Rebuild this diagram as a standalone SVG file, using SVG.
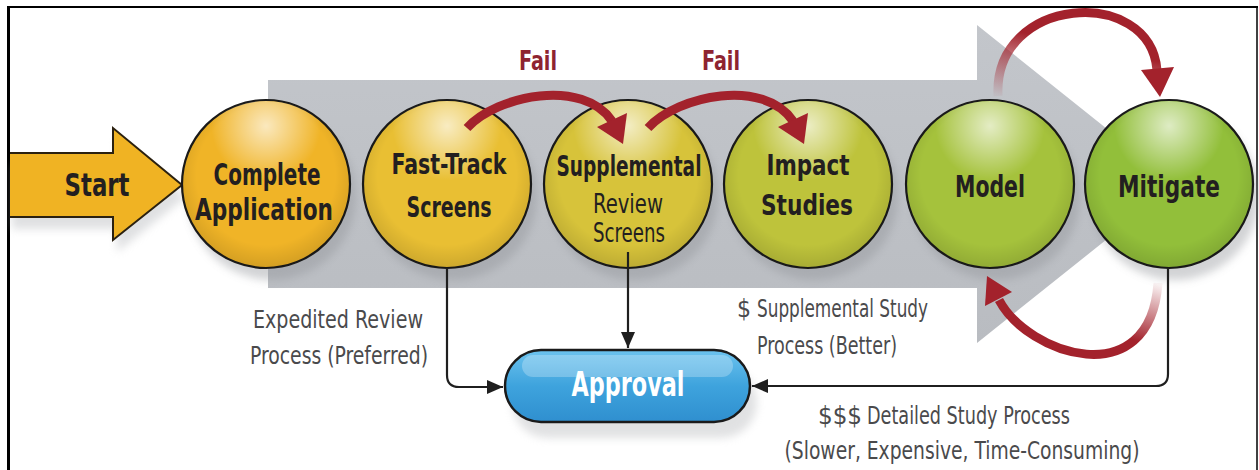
<svg xmlns="http://www.w3.org/2000/svg" width="1259" height="470" viewBox="0 0 1259 470">
<style>
.lbl{font-family:"Liberation Sans Narrow","DejaVu Sans Condensed","Liberation Sans",sans-serif;font-weight:bold;fill:#231f20;text-anchor:middle}
.sub{font-family:"Liberation Sans Narrow","DejaVu Sans Condensed","Liberation Sans",sans-serif;fill:#231f20;text-anchor:middle;font-size:26px}
.note{font-family:"Liberation Sans Narrow","DejaVu Sans Condensed","Liberation Sans",sans-serif;fill:#4a4a4c;text-anchor:middle;font-size:24px}
.notel{font-family:"Liberation Sans Narrow","DejaVu Sans Condensed","Liberation Sans",sans-serif;fill:#4a4a4c;font-size:24px}
.fail{font-family:"Liberation Sans Narrow","DejaVu Sans Condensed","Liberation Sans",sans-serif;font-weight:bold;fill:#8e2430;text-anchor:middle;font-size:27px}
.circ{stroke:#1a1a1a;stroke-width:2.2}
.conn{fill:none;stroke:#1f1f1f;stroke-width:2.2}
.red{fill:none;stroke:#a3222c;stroke-width:9}
.redhead{fill:#a3222c}
.shadow{fill:#8f9297;opacity:0.4;filter:url(#blur)}
</style>
<defs>
<filter id="blur" x="-20%" y="-20%" width="140%" height="140%"><feGaussianBlur stdDeviation="4"/></filter>
<radialGradient id="hl" cx="0.5" cy="0.15" r="0.55">
<stop offset="0" stop-color="#fff" stop-opacity="0.7"/>
<stop offset="0.6" stop-color="#fff" stop-opacity="0"/>
</radialGradient>
<radialGradient id="edge" cx="0.5" cy="0.45" r="0.55">
<stop offset="0.75" stop-color="#000" stop-opacity="0"/>
<stop offset="1" stop-color="#000" stop-opacity="0.12"/>
</radialGradient>
<linearGradient id="grayArrow" x1="0" y1="0" x2="0" y2="1">
<stop offset="0" stop-color="#c3c6cb"/>
<stop offset="1" stop-color="#b9bcc1"/>
</linearGradient>
<linearGradient id="pill" x1="0" y1="0" x2="0" y2="1">
<stop offset="0" stop-color="#6cc3ef"/>
<stop offset="0.5" stop-color="#3ea3dd"/>
<stop offset="1" stop-color="#2f8fcf"/>
</linearGradient>
<linearGradient id="fadeTop" gradientUnits="userSpaceOnUse" x1="998" y1="95" x2="1012" y2="30">
<stop offset="0" stop-color="#a3222c" stop-opacity="0.05"/>
<stop offset="1" stop-color="#a3222c" stop-opacity="1"/>
</linearGradient>
<linearGradient id="fadeBot" gradientUnits="userSpaceOnUse" x1="1158" y1="284" x2="1140" y2="342">
<stop offset="0" stop-color="#a3222c" stop-opacity="0.05"/>
<stop offset="1" stop-color="#a3222c" stop-opacity="1"/>
</linearGradient>
<marker id="ah" markerUnits="userSpaceOnUse" markerWidth="18" markerHeight="16" refX="16" refY="7" orient="auto">
<path d="M0,0 L16,7 L0,14 Z" fill="#1f1f1f"/>
</marker>
</defs>

<rect x="0" y="0" width="1259" height="470" fill="#fff"/>

<g id="frame" stroke="#000" fill="none">
<line x1="8.5" y1="6" x2="8.5" y2="470" stroke-width="3"/>
<line x1="7" y1="7" x2="1258" y2="7" stroke-width="2"/>
<line x1="1257" y1="6" x2="1257" y2="470" stroke-width="1.5"/>
</g>

<g id="process-arrow">
<path d="M268,80 H977 V25 L1176,184 L977,343 V288 H268 Z" fill="url(#grayArrow)"/>
</g>

<g id="shadows">
<path class="shadow" d="M12,165 H117 V140 L186,197 L117,252 V229 H12 Z" style="fill:#b0b3b7"/>
<circle class="shadow" cx="272" cy="196" r="84"/>
<circle class="shadow" cx="453" cy="196" r="84"/>
<circle class="shadow" cx="634" cy="196" r="84"/>
<circle class="shadow" cx="814" cy="196" r="84"/>
<circle class="shadow" cx="996" cy="196" r="84"/>
<circle class="shadow" cx="1175" cy="196" r="84"/>
<rect class="shadow" x="512" y="366" width="245" height="72" rx="36" style="fill:#b4b6b9"/>
</g>

<g id="start">
<path d="M10,153 H113 V128 L182,185 L113,240 V217 H10" fill="#f0b323" stroke="#2b2110" stroke-width="2"/>
<text class="lbl" x="97" y="196" font-size="32" textLength="65" lengthAdjust="spacingAndGlyphs">Start</text>
</g>

<g id="node-complete-application">
<circle class="circ" cx="266" cy="184" r="84" fill="#f0b427"/>
<circle cx="266" cy="184" r="84" fill="url(#edge)"/>
<circle cx="266" cy="184" r="83" fill="url(#hl)"/>
<text class="lbl" x="267" y="185" font-size="30" textLength="107" lengthAdjust="spacingAndGlyphs">Complete</text>
<text class="lbl" x="264" y="220" font-size="30" textLength="138" lengthAdjust="spacingAndGlyphs">Application</text>
</g>

<g id="node-fast-track">
<circle class="circ" cx="447" cy="184" r="84" fill="#e9bf33"/>
<circle cx="447" cy="184" r="84" fill="url(#edge)"/>
<circle cx="447" cy="184" r="83" fill="url(#hl)"/>
<text class="lbl" x="449" y="174" font-size="29" textLength="115" lengthAdjust="spacingAndGlyphs">Fast-Track</text>
<text class="lbl" x="449" y="217" font-size="29" textLength="85" lengthAdjust="spacingAndGlyphs">Screens</text>
</g>

<g id="node-supplemental">
<circle class="circ" cx="628" cy="184" r="84" fill="#d7c33a"/>
<circle cx="628" cy="184" r="84" fill="url(#edge)"/>
<circle cx="628" cy="184" r="83" fill="url(#hl)"/>
<text class="lbl" x="629" y="176" font-size="28" textLength="145" lengthAdjust="spacingAndGlyphs">Supplemental</text>
<text class="sub" x="628" y="213" textLength="70" lengthAdjust="spacingAndGlyphs">Review</text>
<text class="sub" x="629" y="242" textLength="72" lengthAdjust="spacingAndGlyphs">Screens</text>
</g>

<g id="node-impact">
<circle class="circ" cx="808" cy="184" r="84" fill="#bec33b"/>
<circle cx="808" cy="184" r="84" fill="url(#edge)"/>
<circle cx="808" cy="184" r="83" fill="url(#hl)"/>
<text class="lbl" x="808" y="175" font-size="29" textLength="83" lengthAdjust="spacingAndGlyphs">Impact</text>
<text class="lbl" x="807" y="215" font-size="29" textLength="92" lengthAdjust="spacingAndGlyphs">Studies</text>
</g>

<g id="node-model">
<circle class="circ" cx="990" cy="184" r="84" fill="#a5c23c"/>
<circle cx="990" cy="184" r="84" fill="url(#edge)"/>
<circle cx="990" cy="184" r="83" fill="url(#hl)"/>
<text class="lbl" x="990" y="197" font-size="30" textLength="70" lengthAdjust="spacingAndGlyphs">Model</text>
</g>

<g id="node-mitigate">
<circle class="circ" cx="1169" cy="184" r="84" fill="#92bf3a"/>
<circle cx="1169" cy="184" r="84" fill="url(#edge)"/>
<circle cx="1169" cy="184" r="83" fill="url(#hl)"/>
<text class="lbl" x="1169" y="197" font-size="30" textLength="102" lengthAdjust="spacingAndGlyphs">Mitigate</text>
</g>

<g id="node-approval">
<rect x="505" y="350" width="245" height="72" rx="36" fill="url(#pill)" stroke="#1a1a1a" stroke-width="2.5"/>
<rect x="522" y="355" width="211" height="22" rx="11" fill="#fff" opacity="0.25"/>
<text class="lbl" x="628" y="396" font-size="33" textLength="113" lengthAdjust="spacingAndGlyphs" style="fill:#fff">Approval</text>
</g>

<g id="connectors">
<path class="conn" d="M447,268 V375 Q447,387 459,387 H503" marker-end="url(#ah)"/>
<path class="conn" d="M628,252 V348" marker-end="url(#ah)"/>
<path class="conn" d="M1168,268 V374 Q1168,386 1156,386 H752" marker-end="url(#ah)"/>

<path class="red" d="M467,128 C497,95 583,78 612,121"/>
<polygon class="redhead" points="623,144 597,127 627,113"/>
<path class="red" d="M648,128 C678,95 764,78 793,121"/>
<polygon class="redhead" points="804,144 778,127 808,113"/>

<path class="red" d="M998,96 C993,-5 1150,-15 1157,70" style="stroke:url(#fadeTop)"/>
<polygon class="redhead" points="1160,97 1141,70 1174,67"/>

<path class="red" d="M1158,283 C1150,395 1028,355 999,300" style="stroke:url(#fadeBot)"/>
<polygon class="redhead" points="987,276 985,306 1012,292"/>
</g>

<g id="labels">
<text class="fail" x="538" y="70" textLength="38" lengthAdjust="spacingAndGlyphs">Fail</text>
<text class="fail" x="721" y="70" textLength="38" lengthAdjust="spacingAndGlyphs">Fail</text>
<text class="note" x="338" y="328" textLength="170" lengthAdjust="spacingAndGlyphs">Expedited Review</text>
<text class="note" x="339" y="364" textLength="178" lengthAdjust="spacingAndGlyphs">Process (Preferred)</text>
<text class="notel" x="737" y="317" font-size="28" textLength="14" lengthAdjust="spacingAndGlyphs">$</text>
<text class="notel" x="757" y="317" textLength="171" lengthAdjust="spacingAndGlyphs">Supplemental Study</text>
<text class="note" x="827" y="354" textLength="140" lengthAdjust="spacingAndGlyphs">Process (Better)</text>
<text class="notel" x="818" y="424" font-size="34" textLength="44" lengthAdjust="spacingAndGlyphs">$$$</text>
<text class="notel" x="867" y="424" textLength="203" lengthAdjust="spacingAndGlyphs">Detailed Study Process</text>
<text class="note" x="962" y="459" textLength="355" lengthAdjust="spacingAndGlyphs">(Slower, Expensive, Time-Consuming)</text>
</g>
</svg>
